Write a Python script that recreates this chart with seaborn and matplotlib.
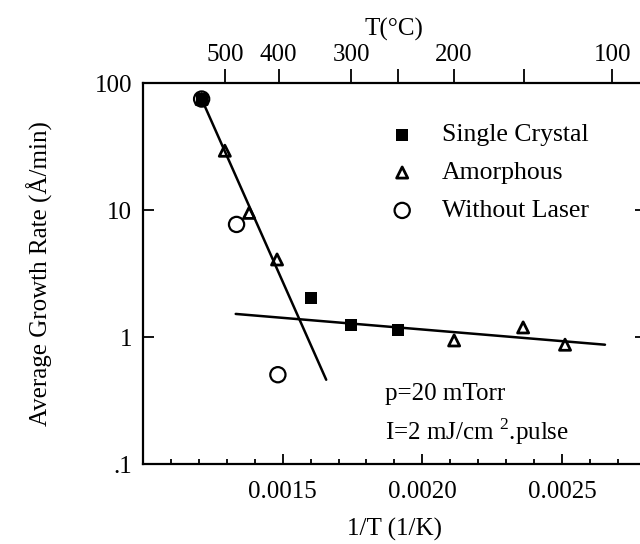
import matplotlib
matplotlib.use("Agg")
import matplotlib.pyplot as plt
import seaborn as sns
import numpy as np
from matplotlib.ticker import FixedLocator, FixedFormatter, LogLocator, MultipleLocator, NullFormatter

# data (x = 1/T in 1/K, y = growth rate in A/min)
single_x = [0.001210, 0.001602, 0.001745, 0.001912]
single_y = [74.8, 2.04, 1.25, 1.13]

amorph_x = [0.001210, 0.001293, 0.001380, 0.001480, 0.002114, 0.002361, 0.002511]
amorph_y = [74.8, 29.3, 9.5, 4.08, 0.94, 1.19, 0.87]

nolaser_x = [0.001210, 0.001335, 0.001483]
nolaser_y = [74.8, 7.7, 0.505]

# hand-drawn fit lines
fit_hi_x = [0.001210, 0.001656]
fit_hi_y = [74.8, 0.461]
fit_lo_x = [0.001332, 0.002654]
fit_lo_y = [1.52, 0.87]

# top axis temperatures (deg C)
top_temps = [500, 400, 300, 250, 200, 150, 100]
top_labels = ["500", "400", "300", "", "200", "", "100"]

y_ticks = [0.1, 1, 10, 100]
y_labels = [".1", "1", "10", "100"]

sns.set_theme(style="ticks")
plt.rcParams['font.family'] = ['Liberation Serif', 'DejaVu Serif']
plt.rcParams['mathtext.fontset'] = 'custom'
plt.rcParams['mathtext.rm'] = 'Liberation Serif'
plt.rcParams['text.color'] = 'black'
plt.rcParams['axes.labelcolor'] = 'black'
plt.rcParams['xtick.color'] = 'black'
plt.rcParams['ytick.color'] = 'black'

fig = plt.figure(figsize=(6.4, 5.44), dpi=100)
ax = fig.add_axes([0.2234, 0.147, 1.009 - 0.2234, 0.8474 - 0.147])
ax.set_yscale('log')

sns.lineplot(x=fit_hi_x, y=fit_hi_y, color='black', lw=1.8, ax=ax)
sns.lineplot(x=fit_lo_x, y=fit_lo_y, color='black', lw=1.8, ax=ax)

sns.scatterplot(x=single_x, y=single_y, marker='s', s=80, color='black',
                linewidth=0, ax=ax, label='Single Crystal', zorder=3)
sns.scatterplot(x=amorph_x, y=amorph_y, marker='^', s=64, color='black',
                linewidth=2, ax=ax, label='Amorphous', zorder=3)
ax.collections[-1].set_facecolor('none')
ax.collections[-1].set_edgecolor('black')
sns.scatterplot(x=nolaser_x, y=nolaser_y, marker='o', s=120, color='black',
                linewidth=1.6, ax=ax, label='Without Laser', zorder=3)
ax.collections[-1].set_facecolor('none')
ax.collections[-1].set_edgecolor('black')

ax.set_xlim(0.0010, 0.0028)
ax.set_ylim(0.1, 100)

ax.xaxis.set_major_locator(FixedLocator([0.0015, 0.0020, 0.0025]))
ax.xaxis.set_major_formatter(FixedFormatter(["0.0015", "0.0020", "0.0025"]))
ax.xaxis.set_minor_locator(MultipleLocator(0.0001))
ax.yaxis.set_major_locator(FixedLocator(y_ticks))
ax.yaxis.set_major_formatter(FixedFormatter(y_labels))
ax.yaxis.set_minor_locator(LogLocator(base=10, subs=np.arange(2, 10)))
ax.yaxis.set_minor_formatter(NullFormatter())

ax.tick_params(which='both', direction='in', top=True, right=True, width=1.3,
               labelsize=18)
ax.tick_params(axis='x', which='major', length=7, pad=12)
ax.tick_params(axis='x', which='minor', length=3.5)
ax.tick_params(axis='y', which='major', length=8, pad=8)
ax.tick_params(axis='y', which='minor', length=6)
for sp in ax.spines.values():
    sp.set_linewidth(1.6)
    sp.set_color('black')

ax.set_xlabel("1/T (1/K)", fontsize=18, labelpad=11)
ax.set_ylabel("Average Growth Rate (Å/min)", fontsize=18, labelpad=30)

# top temperature axis
ax2 = ax.twiny()
ax2.set_xlim(ax.get_xlim())
ax2.set_xticks([1.0 / (t + 273.15) for t in top_temps])
ax2.set_xticklabels(top_labels)
ax2.minorticks_off()
ax2.tick_params(axis='x', direction='out', length=10, width=1.3, pad=2,
                labelsize=18, bottom=False, top=True)
ax2.set_xlabel("T(°C)", fontsize=18, labelpad=6)
for sp in ax2.spines.values():
    sp.set_visible(False)

ax.text(0.481, 0.184, "p=20 mTorr", transform=ax.transAxes, fontsize=18,
        va='center', ha='left')
ax.text(0.481, 0.086, "I=2 mJ/cm $^{2}$.pulse", transform=ax.transAxes,
        fontsize=18, va='center', ha='left')

ax.legend(loc='upper left', bbox_to_anchor=(0.49, 0.894), frameon=False,
          fontsize=18.5, handlelength=1.0, handletextpad=1.05, labelspacing=0.58,
          borderaxespad=0, borderpad=0, scatterpoints=1)

fig.savefig("out.png", dpi=100)
